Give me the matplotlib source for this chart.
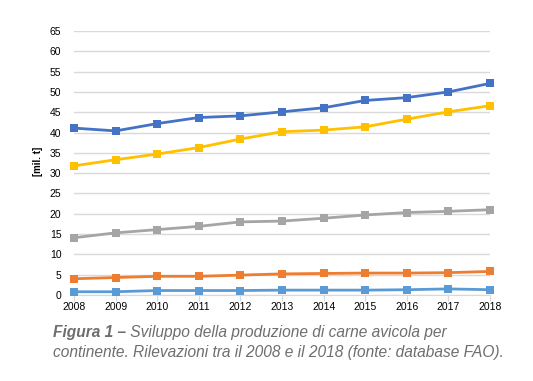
import matplotlib
matplotlib.use("Agg")
import matplotlib.pyplot as plt

years = [2008, 2009, 2010, 2011, 2012, 2013, 2014, 2015, 2016, 2017, 2018]
s_darkblue = [41.1, 40.4, 42.2, 43.7, 44.1, 45.1, 46.1, 47.9, 48.6, 50.0, 52.1]
s_yellow = [31.8, 33.3, 34.7, 36.3, 38.4, 40.2, 40.6, 41.4, 43.3, 45.1, 46.6]
s_gray = [14.1, 15.3, 16.1, 16.9, 18.0, 18.2, 18.9, 19.7, 20.3, 20.6, 21.0]
s_orange = [4.0, 4.3, 4.6, 4.6, 4.9, 5.2, 5.3, 5.4, 5.4, 5.5, 5.8]
s_lightblue = [0.8, 0.8, 1.1, 1.1, 1.1, 1.2, 1.2, 1.2, 1.3, 1.5, 1.3]
y_ticks = list(range(0, 70, 5))
y_label = "[mil. t]"
caption_bold = "Figura 1 \u2013"
caption_rest1 = " Sviluppo della produzione di carne avicola per"
caption_line2 = "continente. Rilevazioni tra il 2008 e il 2018 (fonte: database FAO)."

plt.rcParams['font.family'] = ['Liberation Sans', 'DejaVu Sans']

fig = plt.figure(figsize=(5.33, 3.81), dpi=100)
ax = fig.add_axes([74/533, 1-295/381, (490-74)/533, (295-31)/381])

series = [
    (s_lightblue, "#5B9BD5"),
    (s_orange, "#ED7D31"),
    (s_gray, "#A5A5A5"),
    (s_yellow, "#FFC000"),
    (s_darkblue, "#4472C4"),
]
for vals, c in series:
    ax.plot(years, vals, color=c, lw=2.0, marker='s', markersize=6,
            markeredgewidth=0, clip_on=False, zorder=3)

ax.set_xlim(2008, 2018)
ax.set_ylim(0, 65)
ax.set_yticks(y_ticks)
ax.set_xticks(years)
ax.set_xticklabels([str(y) for y in years])
ax.grid(axis='y', color='#D9D9D9', lw=1.0)
ax.set_axisbelow(True)
for s in ['top', 'right', 'left']:
    ax.spines[s].set_visible(False)
ax.spines['bottom'].set_color('#D9D9D9')
ax.tick_params(axis='y', length=0, labelsize=7.5, pad=9, colors='#000000')
ax.tick_params(axis='x', length=4, color='#D9D9D9', labelsize=7.5, pad=1, labelcolor='#000000')
ax.set_ylabel(y_label, fontsize=7, fontweight='bold')
ax.yaxis.set_label_coords((43-74)/416, (295-161)/264)

cap_color = '#6E6E6E'
fs = 11.2
t1 = fig.text(53/533, 1-333/381, caption_bold, fontsize=fs, style='italic',
              fontweight='bold', color=cap_color, va='center', ha='left')
fig.canvas.draw()
bb = t1.get_window_extent(renderer=fig.canvas.get_renderer())
fig.text(bb.x1/533, 1-333/381, caption_rest1, fontsize=fs, style='italic',
         color=cap_color, va='center', ha='left')
fig.text(53/533, 1-353/381, caption_line2, fontsize=fs, style='italic',
         color=cap_color, va='center', ha='left')

fig.savefig("out.png", dpi=100)
